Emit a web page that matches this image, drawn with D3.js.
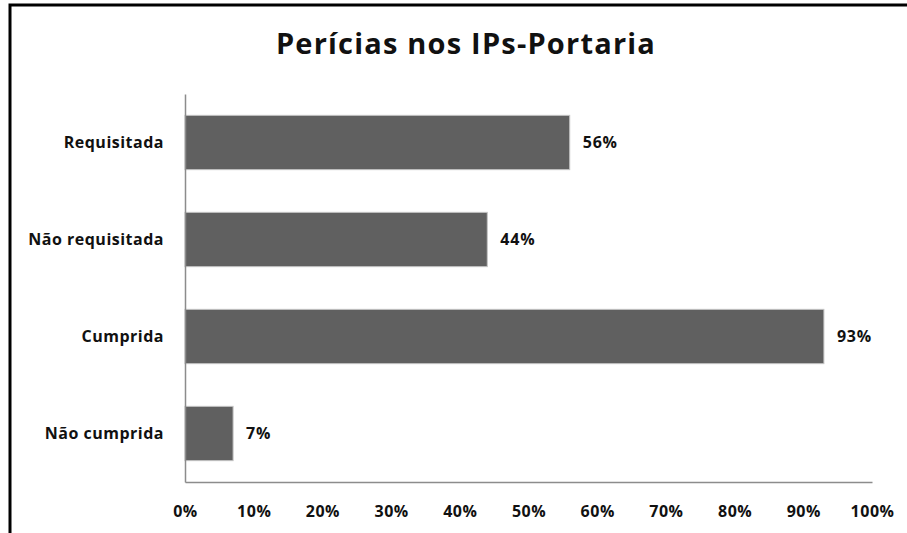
<!DOCTYPE html>
<html>
<head>
<meta charset="utf-8">
<script src="https://cdn.jsdelivr.net/npm/d3@7"></script>
<style>
  body { margin: 0; background: #fff; }
  text { font-family: "Open Sans", sans-serif; font-weight: bold; fill: #111; }
</style>
</head>
<body>
<div class="canvas"></div>
<script>
const categories = ['Requisitada', 'Não requisitada', 'Cumprida', 'Não cumprida'];
const values = [56, 44, 93, 7];
const tickValues = [0, 10, 20, 30, 40, 50, 60, 70, 80, 90, 100];
const title = 'Perícias nos IPs-Portaria';

const width = 907;
const height = 533;
const margin = { top: 94, right: 35, bottom: 51, left: 185 };
const graphWidth = width - margin.left - margin.right;
const graphHeight = height - margin.top - margin.bottom;

const svg = d3.select('.canvas')
  .append('svg')
  .attr('width', width)
  .attr('height', height);

// frame (only left and top edges are visible in the crop)
svg.append('path')
  .attr('d', `M10,${height} L10,5 L${width},5`)
  .attr('fill', 'none')
  .attr('stroke', '#000')
  .attr('stroke-width', 3);

svg.append('text')
  .attr('x', 466)
  .attr('y', 54)
  .attr('text-anchor', 'middle')
  .style('font-size', '29px')
  .style('letter-spacing', '1.2px')
  .text(title);

const graph = svg.append('g')
  .attr('transform', `translate(${margin.left}, ${margin.top})`);

const x = d3.scaleLinear().domain([0, 100]).range([0, graphWidth]);
const y = d3.scaleBand().domain(categories).range([0, graphHeight]).paddingInner(0.44).paddingOuter(0.22);

graph.selectAll('rect')
  .data(categories)
  .enter()
  .append('rect')
    .attr('x', 0)
    .attr('y', d => y(d))
    .attr('width', (d, i) => x(values[i]))
    .attr('height', y.bandwidth())
    .attr('fill', '#606060')
    .attr('stroke', '#c4c4c4')
    .attr('stroke-width', 1);

graph.selectAll('.value')
  .data(categories)
  .enter()
  .append('text')
    .attr('class', 'value')
    .attr('x', (d, i) => x(values[i]) + 13)
    .attr('y', d => y(d) + y.bandwidth() / 2)
    .attr('dy', '0.35em')
    .style('font-size', '16px')
    .style('letter-spacing', '0.8px')
    .text((d, i) => values[i] + '%');

const xAxis = d3.axisBottom(x)
  .tickValues(tickValues)
  .tickSize(0)
  .tickPadding(24)
  .tickFormat(d => d + '%');

const yAxis = d3.axisLeft(y)
  .tickSize(0)
  .tickPadding(21);

const xAxisGroup = graph.append('g')
  .attr('transform', `translate(0, ${graphHeight})`)
  .call(xAxis);

const yAxisGroup = graph.append('g')
  .call(yAxis);

[xAxisGroup, yAxisGroup].forEach(g => {
  g.select('.domain').attr('stroke', '#8c8c8c').attr('stroke-width', 1.5);
  g.selectAll('text')
    .attr('fill', '#111')
    .style('font-family', '"Open Sans", sans-serif')
    .style('font-weight', 'bold')
    .style('font-size', '16px')
    .style('letter-spacing', '0.5px');
});
</script>
</body>
</html>
